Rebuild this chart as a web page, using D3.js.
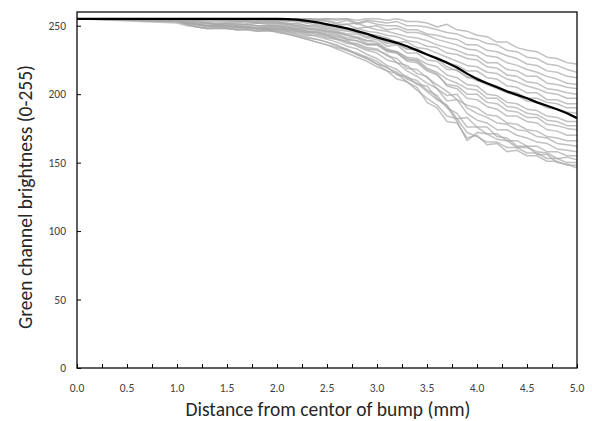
<!DOCTYPE html>
<html><head><meta charset="utf-8">
<script src="https://cdn.jsdelivr.net/npm/d3@7/dist/d3.min.js"></script>
<style>body{margin:0;background:#fff}svg{display:block}text{font-family:Carlito,Calibri,Lato,sans-serif}</style>
</head><body><svg id="c" width="592" height="421"></svg>
<script>
// x positions (mm): 0, then 1.0 .. 5.0 step 0.1
const xs = [0,1.0,1.1,1.2,1.3,1.4,1.5,1.6,1.7,1.8,1.9,2.0,2.1,2.2,2.3,2.4,2.5,2.6,2.7,2.8,2.9,3.0,3.1,3.2,3.3,3.4,3.5,3.6,3.7,3.8,3.9,4.0,4.1,4.2,4.3,4.4,4.5,4.6,4.7,4.8,4.9,5.0];
const xTicks = [0,0.5,1.0,1.5,2.0,2.5,3.0,3.5,4.0,4.5,5.0];
const xMinorTicks = [0,0.25,0.5,0.75,1.0,1.25,1.5,1.75,2.0,2.25,2.5,2.75,3.0,3.25,3.5,3.75,4.0,4.25,4.5,4.75,5.0];
const yTicks = [0,50,100,150,200,250];
const meanLine = [255,255,255,255,255,255,255,255,255,255,255,255,254.8,254.5,253.5,252.5,251,249.5,248,246,244,241.5,239.5,237.5,235,232,229,226,223,219.5,215,211,208,205,202,199.5,197,194,191.5,189,186,182.5];
const g1 = [255,255,255,255,255,255,255,255,255,255,255,255,255,255,255,255,255,255,255,254,255,255,254,255,253,253,252,249,251,247,246,243,242,238,238,234,232,231,227,226,223,222];
const g2 = [255,255,255,255,255,255,255,255,255,255,255,255,255,255,255,254,255,254,255,252,254,253,252,253,250,250,249,247,245,244,241,240,237,236,232,231,227,226,222,221,218,216];
const g3 = [255,255,255,255,255,255,255,255,255,255,255,255,255,254,255,254,254,252,254,251,253,251,250,250,247,247,244,243,241,240,236,236,232,231,228,226,222,221,217,216,213,212];
const g4 = [255,255,255,255,255,255,255,255,255,254,255,255,254,254,253,254,253,251,251,252,249,250,247,248,245,245,243,240,238,236,233,232,228,227,223,221,218,216,213,211,208,207];
const g5 = [255,255,255,255,255,255,255,254,255,254,254,254,253,254,252,253,251,250,251,248,249,247,246,244,242,241,239,236,234,232,229,228,223,223,218,217,213,213,208,207,205,204];
const g6 = [255,255,255,255,255,255,255,255,254,255,254,254,254,253,252,252,250,250,248,248,246,245,243,242,239,238,235,234,230,229,226,225,220,219,214,213,209,208,204,203,201,200];
const g7 = [255,255,255,254,254,255,254,253,254,253,253,253,251,252,250,251,249,248,247,245,244,243,241,238,238,234,233,230,227,224,221,220,216,215,211,209,206,204,201,200,197,197];
const g8 = [255,255,254,254,253,253,253,252,253,252,252,252,251,250,249,249,247,246,244,244,241,241,237,237,233,233,229,227,223,221,217,217,212,211,206,205,201,201,196,196,193,193];
const g9 = [255,254,253,252,252,251,251,250,251,250,250,250,249,248,248,247,246,245,243,242,239,240,235,236,230,230,225,224,218,218,212,212,208,206,202,201,197,197,194,193,190,190];
const g10 = [255,255,255,254,255,254,254,254,253,253,253,253,252,251,250,250,248,247,246,245,242,242,238,237,233,232,229,226,220,217,213,210,207,204,201,199,195,194,190,189,187,186];
const g11 = [255,254,252,251,250,251,250,249,250,249,249,249,248,247,246,246,244,243,240,239,236,236,232,231,227,226,222,220,214,212,207,206,200,199,194,193,189,188,184,183,180,180];
const g12 = [255,253,251,250,250,249,249,248,249,248,248,248,247,246,245,245,243,242,240,239,236,236,231,230,225,225,219,216,211,208,204,203,197,197,191,190,186,185,181,180,177,177];
const g13 = [255,255,254,253,252,252,252,251,251,252,251,251,250,249,247,247,245,244,241,241,237,237,232,230,224,223,217,214,207,206,200,200,194,193,188,187,183,183,178,177,175,174];
const g14 = [255,255,255,255,254,254,254,253,253,252,252,252,251,250,248,248,246,245,243,241,239,238,233,231,226,224,218,215,206,204,197,196,191,189,184,184,180,179,174,173,170,170];
const g15 = [255,254,252,251,250,250,250,249,249,248,249,249,248,247,245,244,242,241,238,237,234,233,228,226,219,218,212,207,202,196,192,190,185,184,179,178,174,173,169,168,166,166];
const g16 = [255,253,251,249,248,249,248,247,248,247,247,247,246,245,243,243,241,240,237,236,233,232,229,223,221,215,213,204,199,200,190,186,183,179,178,174,173,169,168,164,163,162];
const g17 = [255,255,254,253,252,251,252,251,251,250,250,250,249,248,246,245,243,240,239,235,232,230,225,223,217,213,208,204,195,196,186,181,179,174,174,170,168,165,164,160,159,158];
const g18 = [255,254,252,251,250,250,250,249,249,248,248,248,247,246,244,242,240,238,235,233,229,226,221,218,212,210,203,199,190,186,176,176,171,171,166,166,162,162,158,158,155,155];
const g19 = [255,253,251,249,248,248,248,247,247,246,247,246,245,243,241,240,238,236,232,230,227,224,219,216,211,208,202,196,191,180,166,172,171,167,166,161,161,158,157,153,154,152];
const g20 = [255,254,252,251,249,250,249,249,248,248,247,245,244,242,240,238,236,233,230,227,224,220,217,211,209,203,197,192,184,182,172,169,165,165,161,161,157,157,153,153,150,150];
const g21 = [255,252,250,249,248,248,248,247,247,246,246,246,244,242,240,238,236,234,232,229,226,222,217,215,209,205,194,190,180,179,168,170,163,164,158,159,155,155,151,151,148,148];
const g22 = [255,255,253,252,251,251,251,250,249,248,248,247,246,244,242,240,238,235,233,229,226,222,220,214,213,207,206,197,192,182,183,176,176,169,168,162,162,156,156,150,149,146];
const graySeries = [g1,g2,g3,g4,g5,g6,g7,g8,g9,g10,g11,g12,g13,g14,g15,g16,g17,g18,g19,g20,g21,g22];

const svg = d3.select('#c');
const L = 77, R = 577, T = 12, B = 368;
const x = d3.scaleLinear().domain([0,5]).range([L,R]);
const y = d3.scaleLinear().domain([0,260]).range([B,T]);

svg.append('clipPath').attr('id','pc').append('rect')
  .attr('x',L).attr('y',T).attr('width',R-L).attr('height',B-T);

const line = d3.line().x((d,i)=>x(xs[i])).y(d=>y(d));
const g = svg.append('g').attr('clip-path','url(#pc)');
g.selectAll('path.gray').data(graySeries).enter().append('path')
  .attr('class','gray').attr('d',line).attr('fill','none')
  .attr('stroke','#a6a6a6').attr('stroke-opacity',0.7).attr('stroke-width',1.5)
  .attr('stroke-linejoin','round');
g.append('path').datum(meanLine).attr('d',line).attr('fill','none')
  .attr('stroke','#000').attr('stroke-width',2.25).attr('stroke-linejoin','round');

// frame
svg.append('rect').attr('x',L).attr('y',T).attr('width',R-L).attr('height',B-T)
  .attr('fill','none').attr('stroke','#000').attr('stroke-width',1.25);

// x axis (inside ticks)
const xAxis = svg.append('g').attr('transform',`translate(0,${B})`)
  .call(d3.axisBottom(x).tickValues(xMinorTicks).tickSizeInner(-4).tickSizeOuter(0).tickFormat(''));
xAxis.select('.domain').remove();
xAxis.selectAll('line').attr('stroke','#000');
svg.append('g').selectAll('text').data(xTicks).enter().append('text')
  .attr('x',d=>x(d)).attr('y',B+24).attr('text-anchor','middle')
  .attr('font-size',11.5).attr('fill','#404040').text(d=>d3.format('.1f')(d));

const yAxis = svg.append('g').attr('transform',`translate(${L},0)`)
  .call(d3.axisLeft(y).tickValues(yTicks).tickSizeInner(-4).tickSizeOuter(0).tickFormat(''));
yAxis.select('.domain').remove();
yAxis.selectAll('line').attr('stroke','#000');
svg.append('g').selectAll('text').data(yTicks).enter().append('text')
  .attr('x',L-11).attr('y',d=>y(d)+4).attr('text-anchor','end')
  .attr('font-size',11.5).attr('fill','#404040').text(d=>d);

svg.append('text').attr('x',328).attr('y',416).attr('text-anchor','middle')
  .attr('font-size',19.5).attr('fill','#262626').text('Distance from centor of bump (mm)');
svg.append('text').attr('transform','translate(32,197) rotate(-90)').attr('text-anchor','middle')
  .attr('font-size',19.5).attr('fill','#262626').text('Green channel brightness (0-255)');
</script></body></html>
